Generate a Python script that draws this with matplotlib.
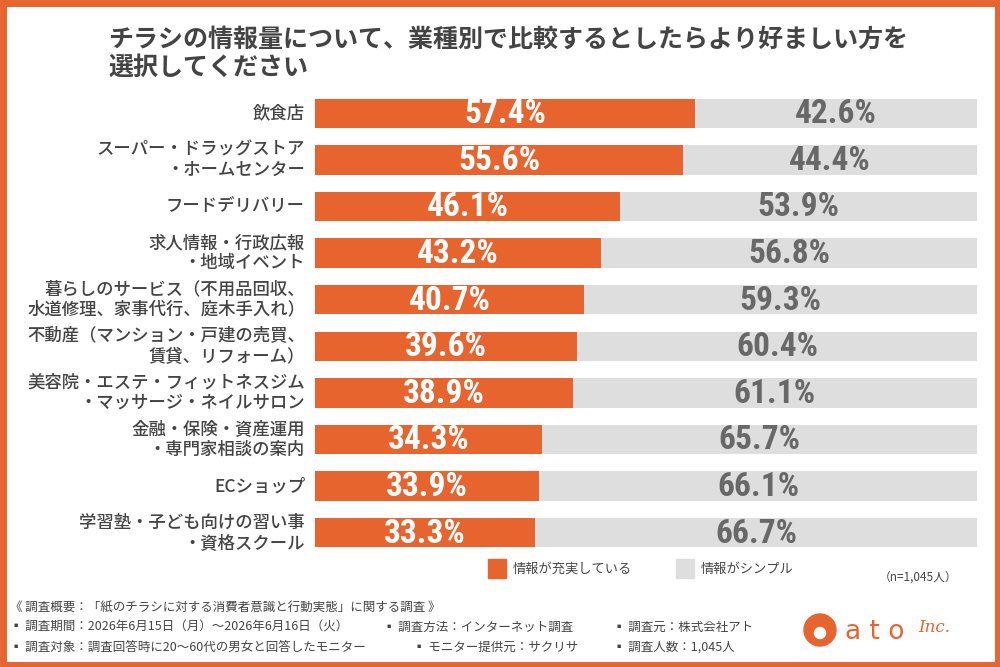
import matplotlib.pyplot as plt
from matplotlib.patches import Rectangle, Circle
from matplotlib import font_manager

plt.rcParams['font.family'] = ['Noto Sans CJK JP', 'DejaVu Sans']

ORANGE = '#E8642F'
GRAY = '#DEDEDE'
TXT = '#444444'

title = 'チラシの情報量について、業種別で比較するとしたらより好ましい方を\n選択してください'
categories = ['飲食店',
              'スーパー・ドラッグストア\n・ホームセンター',
              'フードデリバリー',
              '求人情報・行政広報\n・地域イベント',
              '暮らしのサービス（不用品回収、\n水道修理、家事代行、庭木手入れ）',
              '不動産（マンション・戸建の売買、\n賃貸、リフォーム）',
              '美容院・エステ・フィットネスジム\n・マッサージ・ネイルサロン',
              '金融・保険・資産運用\n・専門家相談の案内',
              'ECショップ',
              '学習塾・子ども向けの習い事\n・資格スクール']
rich = [57.4, 55.6, 46.1, 43.2, 40.7, 39.6, 38.9, 34.3, 33.9, 33.3]
simple = [42.6, 44.4, 53.9, 56.8, 59.3, 60.4, 61.1, 65.7, 66.1, 66.7]
legend_labels = ['情報が充実している', '情報がシンプル']
n_note = '（n=1,045人）'
footer = ['《 調査概要：「紙のチラシに対する消費者意識と行動実態」に関する調査 》',
          '▪ 調査期間：2026年6月15日（月）～2026年6月16日（火）',
          '▪ 調査方法：インターネット調査',
          '▪ 調査元：株式会社アト',
          '▪ 調査対象：調査回答時に20～60代の男女と回答したモニター',
          '▪ モニター提供元：サクリサ',
          '▪ 調査人数：1,045人']

# condensed font for the numbers, if any is around
names = {f.name for f in font_manager.fontManager.ttflist}
num_font = 'DejaVu Sans'
for cand in ['Liberation Sans Narrow', 'Roboto Condensed', 'DejaVu Sans Condensed']:
    if cand in names:
        num_font = cand
        break

fig = plt.figure(figsize=(10, 6.67), dpi=100)
W, H = 1000, 667

# orange frame
bg = fig.add_axes([0, 0, 1, 1])
bg.set_xlim(0, W)
bg.set_ylim(H, 0)
bg.axis('off')
bg.add_patch(Rectangle((2.5, 2.5), W - 5, H - 5, fill=False, ec=ORANGE, lw=5))

bg.text(108, 54, title, fontsize=18, fontweight='bold', color=TXT, va='center',
        ha='left', linespacing=1.2)

# bars
ax = fig.add_axes([315 / W, 1 - 556 / H, 662 / W, 466 / H])
y = list(range(len(categories)))
ax.barh(y, rich, height=0.63, color=ORANGE)
ax.barh(y, simple, left=rich, height=0.63, color=GRAY)
ax.set_xlim(0, 100)
ax.set_ylim(len(categories) - 0.5, -0.5)
ax.axis('off')
for i in y:
    ax.text(rich[i] / 2, i + 0.02, f'{rich[i]}%', color='white', ha='center',
            va='center', fontsize=24, fontweight='bold', family=num_font,
            stretch='condensed')
    ax.text(rich[i] + simple[i] / 2, i + 0.02, f'{simple[i]}%', color='#686868',
            ha='center', va='center', fontsize=24, fontweight='bold',
            family=num_font, stretch='condensed')
    ax.text(-1.5, i, categories[i], ha='right', va='center', fontsize=12.5,
            color=TXT, fontweight='medium', linespacing=1.15)

# legend
bg.add_patch(Rectangle((488, 559), 18, 19, color=ORANGE))
bg.text(513, 569, legend_labels[0], fontsize=9.5, color=TXT, va='center')
bg.add_patch(Rectangle((676, 559), 18, 19, color=GRAY))
bg.text(701, 569, legend_labels[1], fontsize=9.5, color=TXT, va='center')
bg.text(957, 577, n_note, fontsize=8.5, color=TXT, va='center', ha='right')

# footer
fs = 9
bg.text(10, 607, footer[0], fontsize=fs, color=TXT, va='center')
bg.text(10, 627, footer[1], fontsize=fs, color=TXT, va='center')
bg.text(383, 627, footer[2], fontsize=fs, color=TXT, va='center')
bg.text(613, 627, footer[3], fontsize=fs, color=TXT, va='center')
bg.text(10, 647, footer[4], fontsize=fs, color=TXT, va='center')
bg.text(413, 647, footer[5], fontsize=fs, color=TXT, va='center')
bg.text(613, 647, footer[6], fontsize=fs, color=TXT, va='center')

# logo
bg.add_patch(Circle((820, 630), 16, color=ORANGE))
bg.add_patch(Circle((820, 633), 5.5, color='white'))
bg.text(845, 632, 'a t o', fontsize=19, color=ORANGE, va='center', ha='left',
        family='DejaVu Sans')
bg.text(918, 627, 'Inc.', fontsize=12, color=ORANGE, va='center', ha='left',
        style='italic', family='DejaVu Serif')

fig.savefig('out.png', dpi=100)
